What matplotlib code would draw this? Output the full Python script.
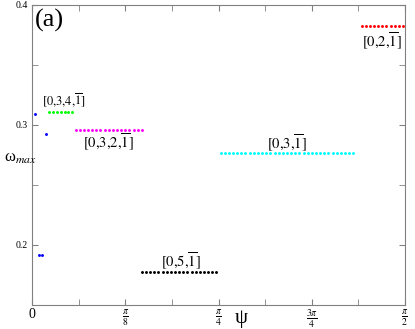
import numpy as np
import matplotlib
matplotlib.use("Agg")
import matplotlib.pyplot as plt
from matplotlib.ticker import FixedLocator

plt.rcParams['font.family'] = ['Liberation Serif', 'DejaVu Serif']
plt.rcParams['mathtext.fontset'] = 'stix'

# psi in degrees, omega_max values
blue_deg = [0.75, 1.6, 2.5, 3.4]
blue_w = [0.309, 0.192, 0.192, 0.2925]

green_deg = [4.1, 5.0, 6.0, 6.9, 7.9, 8.8, 9.7]
green_w = [0.3106] * 7

magenta_deg = [10.5, 11.5, 12.5, 13.5, 14.5, 15.5, 16.5, 17.5, 18.5, 19.5,
               20.5, 21.5, 22.5, 23.5, 24.5, 25.5, 26.5]
magenta_w = [0.2956] * 17

black_deg = [26.5, 27.5, 28.5, 29.5, 30.5, 31.5, 32.5, 33.5, 34.5, 35.5,
             36.5, 37.5, 38.5, 39.5, 40.5, 41.5, 42.5, 43.5, 44.5]
black_w = [0.1775] * 19

cyan_deg = [45.5, 46.5, 47.5, 48.5, 49.5, 50.5, 51.5, 52.5, 53.5, 54.5,
            55.5, 56.5, 57.5, 58.5, 59.5, 60.5, 61.5, 62.5, 63.5, 64.5,
            65.5, 66.5, 67.5, 68.5, 69.5, 70.5, 71.5, 72.5, 73.5, 74.5,
            75.5, 76.5, 77.5]
cyan_w = [0.2764] * 33

red_deg = [79.5, 80.5, 81.5, 82.5, 83.5, 84.5, 85.5, 86.5, 87.5, 88.5, 89.5]
red_w = [0.3828] * 11

labels = [r'$[0{,}3{,}4{,}\overline{1}]$', r'$[0{,}3{,}2{,}\overline{1}]$',
          r'$[0{,}5{,}\overline{1}]$', r'$[0{,}3{,}\overline{1}]$', r'$[0{,}2{,}\overline{1}]$']
label_deg = [7.6, 18.3, 36.0, 61.6, 84.4]
label_w = [0.3208, 0.2858, 0.1869, 0.2853, 0.3703]
label_size = [9.0, 10.5, 10.5, 10.5, 10.5]

xtick_labels = ['0', r'$\frac{\pi}{8}$', r'$\frac{\pi}{4}$', r'$\frac{3\pi}{4}$', r'$\frac{\pi}{2}$']

fig = plt.figure(figsize=(4.15, 3.29), dpi=100)
ax = fig.add_axes([0.0771, 0.073, 0.899, 0.912])

series = [(blue_deg, blue_w, '#0000ff'), (green_deg, green_w, '#00ff00'),
          (magenta_deg, magenta_w, '#ff00ff'), (black_deg, black_w, '#000000'),
          (cyan_deg, cyan_w, '#00ffff'), (red_deg, red_w, '#ff0000')]
for d, w, c in series:
    ax.plot(np.deg2rad(d), w, linestyle='none', marker='o', markersize=2.1,
            markeredgewidth=0, color=c)

for t, d, w, fs in zip(labels, label_deg, label_w, label_size):
    ax.text(np.deg2rad(d), w, t, ha='center', va='center', fontsize=fs)

ax.text(0.008, 0.988, '(a)', transform=ax.transAxes, ha='left', va='top', fontsize=19)

ax.set_xlim(0, np.pi / 2)
ax.set_ylim(0.15, 0.4)
ax.xaxis.set_major_locator(FixedLocator([0, np.pi / 8, np.pi / 4, 3 * np.pi / 8, np.pi / 2]))
ax.xaxis.set_minor_locator(FixedLocator([np.pi / 16, 3 * np.pi / 16, 5 * np.pi / 16, 7 * np.pi / 16]))
ax.set_xticklabels(xtick_labels)
ax.yaxis.set_major_locator(FixedLocator([0.2, 0.3, 0.4]))
ax.yaxis.set_minor_locator(FixedLocator([0.25, 0.35]))
ax.set_yticklabels(['0.2', '0.3', '0.4'])

ax.tick_params(which='both', direction='in', top=True, right=True, color='#808080',
               labelsize=7, pad=3)
ax.tick_params(axis='x', which='major', labelsize=10, pad=2)
ax.tick_params(which='major', length=4)
ax.tick_params(which='minor', length=4)
for s in ax.spines.values():
    s.set_color('#808080')
    s.set_linewidth(0.8)

ax.text(0.56, -0.045, 'ψ', transform=ax.transAxes, ha='center', va='center', fontsize=15)
ax.text(-0.075, 0.49, r'ω$_{max}$', transform=ax.transAxes, ha='left', va='center', fontsize=12)

fig.savefig('out.png', dpi=100)
